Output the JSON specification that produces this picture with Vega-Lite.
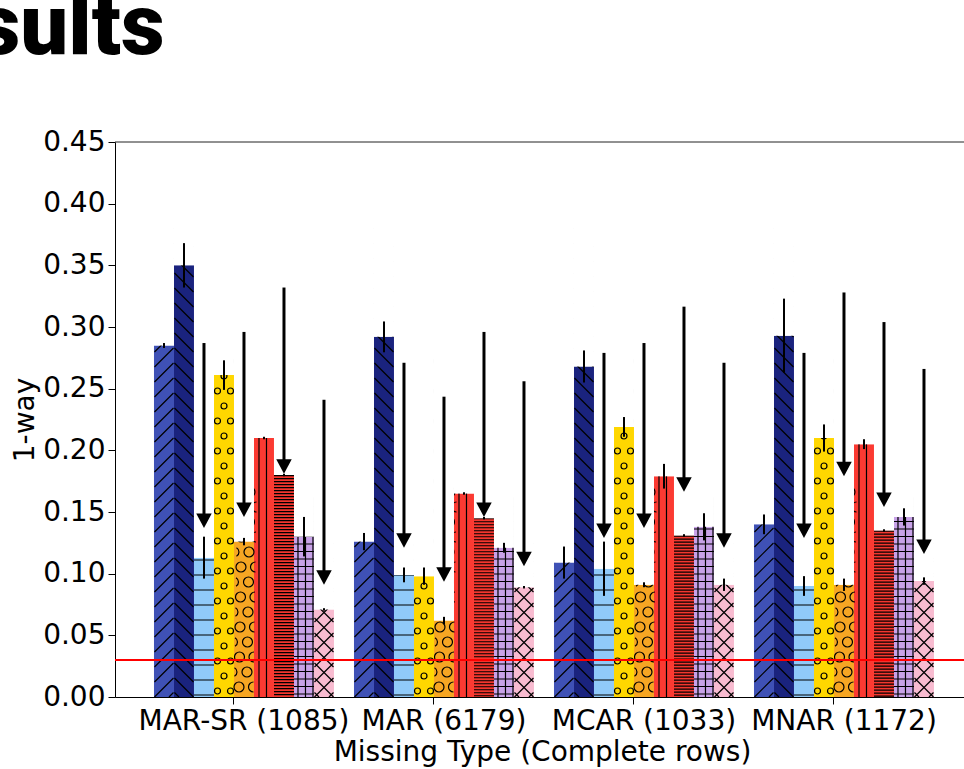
{
  "$schema": "https://vega.github.io/schema/vega-lite/v6.json",
  "width": 849,
  "height": 555,
  "autosize": {"type": "none"},
  "padding": {"left": 115, "top": 142, "right": 0, "bottom": 72},
  "background": "white",
  "title": {"text": "Results", "anchor": "start", "frame": "group", "font": "Roboto", "fontWeight": 900, "fontSize": 85, "color": "black", "dx": -240, "baseline": "alphabetic", "offset": -11},
  "data": {"values": [
    {"group": "MAR-SR (1085)", "method": "m1", "value": 0.285, "err": 0.002},
    {"group": "MAR-SR (1085)", "method": "m2", "value": 0.350, "err": 0.018},
    {"group": "MAR-SR (1085)", "method": "m3", "value": 0.113, "err": 0.017, "afrom": 0.287, "ato": 0.137},
    {"group": "MAR-SR (1085)", "method": "m4", "value": 0.261, "err": 0.012},
    {"group": "MAR-SR (1085)", "method": "m5", "value": 0.126, "err": 0.003, "afrom": 0.296, "ato": 0.146},
    {"group": "MAR-SR (1085)", "method": "m6", "value": 0.210, "err": 0.001},
    {"group": "MAR-SR (1085)", "method": "m7", "value": 0.180, "err": 0.001, "afrom": 0.332, "ato": 0.181},
    {"group": "MAR-SR (1085)", "method": "m8", "value": 0.130, "err": 0.016},
    {"group": "MAR-SR (1085)", "method": "m9", "value": 0.071, "err": 0.001, "afrom": 0.241, "ato": 0.091},
    {"group": "MAR (6179)", "method": "m1", "value": 0.126, "err": 0.007},
    {"group": "MAR (6179)", "method": "m2", "value": 0.292, "err": 0.0125},
    {"group": "MAR (6179)", "method": "m3", "value": 0.099, "err": 0.006, "afrom": 0.271, "ato": 0.121},
    {"group": "MAR (6179)", "method": "m4", "value": 0.098, "err": 0.007},
    {"group": "MAR (6179)", "method": "m5", "value": 0.062, "err": 0.003, "afrom": 0.2435, "ato": 0.0935},
    {"group": "MAR (6179)", "method": "m6", "value": 0.165, "err": 0.001},
    {"group": "MAR (6179)", "method": "m7", "value": 0.145, "err": 0.001, "afrom": 0.296, "ato": 0.146},
    {"group": "MAR (6179)", "method": "m8", "value": 0.121, "err": 0.004},
    {"group": "MAR (6179)", "method": "m9", "value": 0.089, "err": 0.001, "afrom": 0.256, "ato": 0.106},
    {"group": "MCAR (1033)", "method": "m1", "value": 0.109, "err": 0.013},
    {"group": "MCAR (1033)", "method": "m2", "value": 0.268, "err": 0.013},
    {"group": "MCAR (1033)", "method": "m3", "value": 0.104, "err": 0.022, "afrom": 0.279, "ato": 0.129},
    {"group": "MCAR (1033)", "method": "m4", "value": 0.219, "err": 0.008},
    {"group": "MCAR (1033)", "method": "m5", "value": 0.091, "err": 0.002, "afrom": 0.287, "ato": 0.137},
    {"group": "MCAR (1033)", "method": "m6", "value": 0.179, "err": 0.010},
    {"group": "MCAR (1033)", "method": "m7", "value": 0.131, "err": 0.001, "afrom": 0.3165, "ato": 0.1665},
    {"group": "MCAR (1033)", "method": "m8", "value": 0.138, "err": 0.011},
    {"group": "MCAR (1033)", "method": "m9", "value": 0.091, "err": 0.005, "afrom": 0.271, "ato": 0.121},
    {"group": "MNAR (1172)", "method": "m1", "value": 0.140, "err": 0.008},
    {"group": "MNAR (1172)", "method": "m2", "value": 0.293, "err": 0.030},
    {"group": "MNAR (1172)", "method": "m3", "value": 0.090, "err": 0.008, "afrom": 0.279, "ato": 0.129},
    {"group": "MNAR (1172)", "method": "m4", "value": 0.210, "err": 0.011},
    {"group": "MNAR (1172)", "method": "m5", "value": 0.091, "err": 0.005, "afrom": 0.328, "ato": 0.179},
    {"group": "MNAR (1172)", "method": "m6", "value": 0.205, "err": 0.004},
    {"group": "MNAR (1172)", "method": "m7", "value": 0.135, "err": 0.001, "afrom": 0.304, "ato": 0.154},
    {"group": "MNAR (1172)", "method": "m8", "value": 0.146, "err": 0.007},
    {"group": "MNAR (1172)", "method": "m9", "value": 0.094, "err": 0.003, "afrom": 0.266, "ato": 0.116}
  ]},
  "layer": [
    {
      "mark": {"type": "bar"},
      "encoding": {
        "x": {"field": "group", "type": "nominal", "title": "Missing Type (Complete rows)",
              "scale": {"domain": ["MAR-SR (1085)", "MAR (6179)", "MCAR (1033)", "MNAR (1172)"], "paddingInner": 0.1, "paddingOuter": 0.1725, "align": 0.565},
              "axis": {"labelAngle": 0, "bandPosition": 0.444, "labelLimit": 0, "labelOverlap": false, "titleX": 427}},
        "xOffset": {"field": "method", "type": "nominal", "scale": {"domain": ["m1", "m2", "m3", "m4", "m5", "m6", "m7", "m8", "m9"], "paddingInner": 0, "paddingOuter": 0}},
        "y": {"field": "value", "type": "quantitative", "title": "1-way",
              "scale": {"domain": [0, 0.45], "nice": false, "zero": true},
              "axis": {"values": [0, 0.05, 0.1, 0.15, 0.2, 0.25, 0.3, 0.35, 0.4, 0.45], "format": ".2f"}},
        "color": {"field": "method", "type": "nominal", "legend": null,
                  "scale": {"domain": ["m1", "m2", "m3", "m4", "m5", "m6", "m7", "m8", "m9"],
                            "range": ["#3f51b5", "#1a237e", "#90caf9", "#ffd700", "#f6a623", "#fb3a32", "#f4362e", "#c8a2e8", "#f8bbd0"]}}
      }
    },
    {
      "mark": {"type": "point", "size": 4, "filled": false, "color": "black", "strokeWidth": 1.2, "opacity": 1},
      "encoding": {
        "x": {"field": "group", "type": "nominal", "title": "Missing Type (Complete rows)"},
        "xOffset": {"field": "method", "type": "nominal"},
        "y": {"datum": 0},
        "shape": {"field": "method", "type": "nominal", "legend": null,
                  "scale": {"domain": ["m1", "m2", "m3", "m4", "m5", "m6", "m7", "m8", "m9"],
                            "range": [
                              "M5 0L9.5 -4.5M-9.5 0l19 -19m-19 4l19 -19m-19 4l19 -19m-19 4l19 -19m-19 4l19 -19m-19 4l19 -19m-19 4l19 -19m-19 4l19 -19m-19 4l19 -19m-19 4l19 -19m-19 4l19 -19m-19 4l19 -19m-19 4l19 -19m-19 4l19 -19m-19 4l19 -19m-19 4l19 -19m-19 4l19 -19m-19 4l19 -19m-19 4l19 -19m-19 4l19 -19m-19 4l19 -19m-19 4l19 -19m-19 4l19 -19m-19 4l19 -19m-19 4l19 -19m-19 4l19 -19m-19 4l19 -19m-19 4l19 -19m-19 4l19 -19m-19 4l19 -19m-19 4l19 -19",
                              "M-5 0L-9.5 -4.5M9.5 0l-19 -19m19 4l-19 -19m19 4l-19 -19m19 4l-19 -19m19 4l-19 -19m19 4l-19 -19m19 4l-19 -19m19 4l-19 -19m19 4l-19 -19m19 4l-19 -19m19 4l-19 -19m19 4l-19 -19m19 4l-19 -19m19 4l-19 -19m19 4l-19 -19m19 4l-19 -19m19 4l-19 -19m19 4l-19 -19m19 4l-19 -19m19 4l-19 -19m19 4l-19 -19m19 4l-19 -19m19 4l-19 -19m19 4l-19 -19m19 4l-19 -19m19 4l-19 -19m19 4l-19 -19m19 4l-19 -19m19 4l-19 -19m19 4l-19 -19m19 4l-19 -19",
                              "M-10 -2h20m-20 -15h20m-20 -15h20m-20 -15h20m-20 -15h20m-20 -15h20m-20 -15h20m-20 -15h20m-20 -15h20m-20 -15h20m-20 -15h20",
                              "M-3.5 -6a3 3 0 1 0 -6 0a3 3 0 1 0 6 0m13 0a3 3 0 1 0 -6 0a3 3 0 1 0 6 0m-6.5 -15a3 3 0 1 0 -6 0a3 3 0 1 0 6 0m-6.5 -15a3 3 0 1 0 -6 0a3 3 0 1 0 6 0m13 0a3 3 0 1 0 -6 0a3 3 0 1 0 6 0m-6.5 -15a3 3 0 1 0 -6 0a3 3 0 1 0 6 0m-6.5 -15a3 3 0 1 0 -6 0a3 3 0 1 0 6 0m13 0a3 3 0 1 0 -6 0a3 3 0 1 0 6 0m-6.5 -15a3 3 0 1 0 -6 0a3 3 0 1 0 6 0m-6.5 -15a3 3 0 1 0 -6 0a3 3 0 1 0 6 0m13 0a3 3 0 1 0 -6 0a3 3 0 1 0 6 0m-6.5 -15a3 3 0 1 0 -6 0a3 3 0 1 0 6 0m-6.5 -15a3 3 0 1 0 -6 0a3 3 0 1 0 6 0m13 0a3 3 0 1 0 -6 0a3 3 0 1 0 6 0m-6.5 -15a3 3 0 1 0 -6 0a3 3 0 1 0 6 0m-6.5 -15a3 3 0 1 0 -6 0a3 3 0 1 0 6 0m13 0a3 3 0 1 0 -6 0a3 3 0 1 0 6 0m-6.5 -15a3 3 0 1 0 -6 0a3 3 0 1 0 6 0m-6.5 -15a3 3 0 1 0 -6 0a3 3 0 1 0 6 0m13 0a3 3 0 1 0 -6 0a3 3 0 1 0 6 0m-6.5 -15a3 3 0 1 0 -6 0a3 3 0 1 0 6 0m-6.5 -15a3 3 0 1 0 -6 0a3 3 0 1 0 6 0m13 0a3 3 0 1 0 -6 0a3 3 0 1 0 6 0m-6.5 -15a3 3 0 1 0 -6 0a3 3 0 1 0 6 0m-6.5 -15a3 3 0 1 0 -6 0a3 3 0 1 0 6 0m13 0a3 3 0 1 0 -6 0a3 3 0 1 0 6 0m-6.5 -15a3 3 0 1 0 -6 0a3 3 0 1 0 6 0m-6.5 -15a3 3 0 1 0 -6 0a3 3 0 1 0 6 0m13 0a3 3 0 1 0 -6 0a3 3 0 1 0 6 0m-6.5 -15a3 3 0 1 0 -6 0a3 3 0 1 0 6 0m-6.5 -15a3 3 0 1 0 -6 0a3 3 0 1 0 6 0m13 0a3 3 0 1 0 -6 0a3 3 0 1 0 6 0m-6.5 -15a3 3 0 1 0 -6 0a3 3 0 1 0 6 0m-6.5 -15a3 3 0 1 0 -6 0a3 3 0 1 0 6 0m13 0a3 3 0 1 0 -6 0a3 3 0 1 0 6 0",
                              "M0 -10a5 5 0 1 0 -10 0a5 5 0 1 0 10 0m9.5 -5a5 5 0 0 0 0 10m-19 -24.33a5 5 0 0 1 0 8.66m17.5 -4.33a5 5 0 1 0 -10 0a5 5 0 1 0 10 0m-7.5 -15a5 5 0 1 0 -10 0a5 5 0 1 0 10 0m9.5 -5a5 5 0 0 0 0 10m-19 -24.33a5 5 0 0 1 0 8.66m17.5 -4.33a5 5 0 1 0 -10 0a5 5 0 1 0 10 0m-7.5 -15a5 5 0 1 0 -10 0a5 5 0 1 0 10 0m9.5 -5a5 5 0 0 0 0 10m-19 -24.33a5 5 0 0 1 0 8.66m17.5 -4.33a5 5 0 1 0 -10 0a5 5 0 1 0 10 0m-7.5 -15a5 5 0 1 0 -10 0a5 5 0 1 0 10 0m9.5 -5a5 5 0 0 0 0 10m-19 -24.33a5 5 0 0 1 0 8.66m17.5 -4.33a5 5 0 1 0 -10 0a5 5 0 1 0 10 0m-7.5 -15a5 5 0 1 0 -10 0a5 5 0 1 0 10 0m9.5 -5a5 5 0 0 0 0 10m-19 -24.33a5 5 0 0 1 0 8.66m17.5 -4.33a5 5 0 1 0 -10 0a5 5 0 1 0 10 0m-7.5 -15a5 5 0 1 0 -10 0a5 5 0 1 0 10 0m9.5 -5a5 5 0 0 0 0 10m-19 -24.33a5 5 0 0 1 0 8.66m17.5 -4.33a5 5 0 1 0 -10 0a5 5 0 1 0 10 0m-7.5 -15a5 5 0 1 0 -10 0a5 5 0 1 0 10 0m9.5 -5a5 5 0 0 0 0 10m-19 -24.33a5 5 0 0 1 0 8.66m17.5 -4.33a5 5 0 1 0 -10 0a5 5 0 1 0 10 0",
                              "M-5 0V-270M2.5 0V-270",
                              "M0 0",
                              "M-10 -3h20m-20 -7.5h20m-20 -7.5h20m-20 -7.5h20m-20 -7.5h20m-20 -7.5h20m-20 -7.5h20m-20 -7.5h20m-20 -7.5h20m-20 -7.5h20m-20 -7.5h20m-20 -7.5h20m-20 -7.5h20m-20 -7.5h20m-20 -7.5h20m-20 -7.5h20m-20 -7.5h20m-20 -7.5h20m-20 -7.5h20m-20 -7.5h20m-20 -7.5h20m-20 -7.5h20m-20 -7.5h20m-20 -7.5h20m-20 -7.5h20m-20 -7.5h20m-20 -7.5h20M-6 0V-200M1.5 0V-200M9 0V-200",
                              "M5 0L9.5 -4.5M-9.5 0l19 -19m-19 4l19 -19m-19 4l19 -19m-19 4l19 -19m-19 4l19 -19m-19 4l19 -19m-19 4l19 -19m-19 4l19 -19m-19 4l19 -19m-19 4l19 -19M-5 0L-9.5 -4.5M9.5 0l-19 -19m19 4l-19 -19m19 4l-19 -19m19 4l-19 -19m19 4l-19 -19m19 4l-19 -19m19 4l-19 -19m19 4l-19 -19m19 4l-19 -19m19 4l-19 -19"
                            ]}}
      }
    },
    {
      "transform": [{"filter": {"field": "method", "equal": "m7"}}],
      "mark": {"type": "rule", "color": "black", "strokeWidth": 20, "strokeDash": [1.2, 1.8]},
      "encoding": {
        "x": {"field": "group", "type": "nominal", "title": "Missing Type (Complete rows)"},
        "xOffset": {"field": "method", "type": "nominal"},
        "y": {"field": "value", "type": "quantitative", "title": "1-way"},
        "y2": {"datum": 0}
      }
    },
    {
      "mark": {"type": "bar", "color": "white"},
      "encoding": {
        "x": {"field": "group", "type": "nominal", "title": "Missing Type (Complete rows)"},
        "xOffset": {"field": "method", "type": "nominal"},
        "y": {"field": "value", "type": "quantitative", "title": "1-way"},
        "y2": {"datum": 0.45}
      }
    },
    {
      "mark": {"type": "errorbar", "ticks": false, "color": "black", "rule": {"strokeWidth": 2}},
      "encoding": {
        "x": {"field": "group", "type": "nominal", "title": "Missing Type (Complete rows)"},
        "xOffset": {"field": "method", "type": "nominal"},
        "y": {"field": "value", "type": "quantitative", "title": "1-way"},
        "yError": {"field": "err"}
      }
    },
    {
      "data": {"values": [{"threshold": 0.03}]},
      "mark": {"type": "rule", "color": "#ff0000", "strokeWidth": 2},
      "encoding": {"y": {"field": "threshold", "type": "quantitative", "title": "1-way"}}
    },
    {
      "transform": [{"filter": {"field": "afrom", "valid": true}}],
      "mark": {"type": "rule", "color": "black", "strokeWidth": 3, "y2Offset": -8},
      "encoding": {
        "x": {"field": "group", "type": "nominal", "title": "Missing Type (Complete rows)"},
        "xOffset": {"field": "method", "type": "nominal"},
        "y": {"field": "afrom", "type": "quantitative", "title": "1-way"},
        "y2": {"field": "ato"}
      }
    },
    {
      "transform": [{"filter": {"field": "afrom", "valid": true}}],
      "mark": {"type": "point", "shape": "M-7.75 -14.5L7.75 -14.5L0 0Z", "size": 4, "filled": true, "color": "black", "opacity": 1, "strokeWidth": 0},
      "encoding": {
        "x": {"field": "group", "type": "nominal", "title": "Missing Type (Complete rows)"},
        "xOffset": {"field": "method", "type": "nominal"},
        "y": {"field": "ato", "type": "quantitative", "title": "1-way"}
      }
    },
    {
      "data": {"values": [{}]},
      "mark": {"type": "rule", "color": "#222222", "strokeWidth": 1},
      "encoding": {"y": {"datum": 0.45}}
    }
  ],
  "config": {
    "view": {"stroke": null},
    "font": "DejaVu Sans",
    "axis": {"grid": false, "labelFont": "DejaVu Sans", "titleFont": "DejaVu Sans", "labelFontSize": 28, "titleFontSize": 28, "titleFontWeight": "normal", "labelColor": "black", "titleColor": "black", "tickColor": "black", "domainColor": "black", "tickSize": 7, "labelPadding": 3, "titlePadding": 3}
  }
}
